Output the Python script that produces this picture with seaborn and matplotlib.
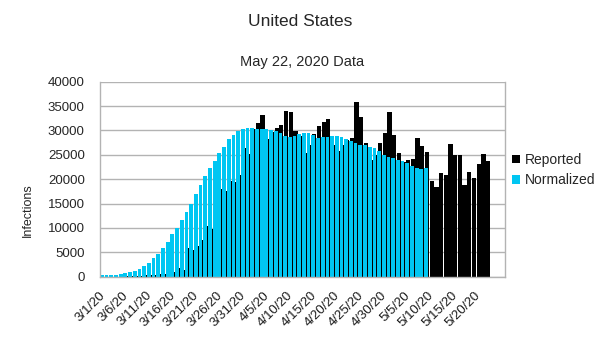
import numpy as np
import matplotlib
matplotlib.use("Agg")
import matplotlib.pyplot as plt
from matplotlib.transforms import ScaledTranslation
import seaborn as sns

# ---- data ----
title = "United States"
subtitle = "May 22, 2020 Data"
tick_labels = ["3/1/20", "3/6/20", "3/11/20", "3/16/20", "3/21/20", "3/26/20",
               "3/31/20", "4/5/20", "4/10/20", "4/15/20", "4/20/20", "4/25/20",
               "4/30/20", "5/5/20", "5/10/20", "5/15/20", "5/20/20"]

reported = [10, 20, 25, 30, 60, 70, 120, 110, 80, 300,
            350, 400, 500, 650, 750, 1000, 1700, 1300, 5800, 5500,
            6200, 7500, 10400, 9850, 11800, 17900, 17600, 19600, 19400, 20900,
            26300, 25200, 30200, 31600, 33200, 28200, 29600, 30500, 31100, 33900,
            33700, 29800, 28900, 25300, 27000, 29200, 30900, 31800, 32300, 27000,
            25700, 27000, 28000, 28400, 35900, 32700, 27500, 24000, 25000, 27350,
            29400, 33800, 29000, 25400, 23600, 23900, 24200, 28400, 26800, 25600,
            19700, 18450, 21300, 20850, 27250, 24950, 24950, 18800, 21400, 20170,
            23100, 25150, 23700]

normalized = [280, 300, 330, 360, 490, 700, 900, 1230, 1640, 2190,
              2870, 3770, 4650, 5820, 7050, 8690, 10050, 11620, 13330, 14900,
              16890, 18800, 20640, 22350, 23780, 25300, 26650, 28170, 29050, 29870,
              30200, 30420, 30420, 30300, 30400, 30300, 30100, 29800, 29400, 28900,
              28700, 28800, 29300, 29500, 29400, 29050, 28500, 28600, 28700, 28800,
              28800, 28700, 28300, 27900, 27400, 27000, 27000, 26700, 26500, 25700,
              24950, 24500, 24250, 23900, 23700, 23250, 22700, 22250, 22150, 22300]

black = "#000000"
cyan = "#00c6f2"
grid_c = "#b3b3b3"

sns.set_theme(style="white")
plt.rcParams["font.family"] = ["Liberation Sans", "DejaVu Sans"]

fig = plt.figure(figsize=(6.05, 3.40), dpi=100)
W, H = 605, 340
ax = fig.add_axes([100 / W, 1 - 276.7 / H, 405 / W, 195 / H])

days_rep = np.arange(len(reported))
days_norm = np.arange(len(normalized)) - 0.2

sns.barplot(x=days_rep, y=reported, native_scale=True, color=black,
            saturation=1, width=0.9, errorbar=None, ax=ax, label="Reported",
            linewidth=0)
sns.barplot(x=days_norm, y=normalized, native_scale=True, color=cyan,
            saturation=1, width=0.8, errorbar=None, ax=ax, label="Normalized",
            linewidth=0)

ax.set_xlim(-0.6, 85.6)
ax.set_ylim(0, 40000)
ax.set_yticks(np.arange(0, 40001, 5000))
ax.set_yticklabels([str(v) for v in range(0, 40001, 5000)], fontsize=9.5)
ax.set_xticks(np.arange(0, len(tick_labels) * 5, 5))
ax.set_xticklabels(tick_labels, rotation=45, ha="right", va="top",
                   rotation_mode="anchor", fontsize=9.5, color="#1a1a1a")
ax.tick_params(axis="x", length=0, pad=9)
ax.tick_params(axis="y", length=0, pad=11)
shift = ScaledTranslation(-4 / 100, 0, fig.dpi_scale_trans)
for lbl in ax.get_xticklabels():
    lbl.set_transform(lbl.get_transform() + shift)
ax.set_xlabel("")
ax.set_ylabel("")

ax.yaxis.grid(True, color=grid_c, linewidth=1)
ax.xaxis.grid(False)
ax.set_axisbelow(True)
for side in ["left", "right", "bottom"]:
    ax.spines[side].set_color(grid_c)
    ax.spines[side].set_linewidth(1)
ax.spines["top"].set_visible(False)

fig.text(300 / W, 1 - 22 / H, title, ha="center", va="center", fontsize=12.5)
fig.text(302 / W, 1 - 62 / H, subtitle, ha="center", va="center", fontsize=10.5)
fig.text(28 / W, 1 - 210 / H, "Infections", ha="center", va="center",
         rotation=90, fontsize=9)

if ax.legend_:
    ax.legend_.remove()
handles, labels = ax.get_legend_handles_labels()
fig.legend(handles, labels, loc="upper left",
           bbox_to_anchor=(512 / W, 1 - 153 / H), frameon=False,
           fontsize=10, handlelength=0.55, handleheight=0.55,
           handletextpad=0.35, labelspacing=0.45, borderaxespad=0,
           borderpad=0)

fig.savefig("out.png", dpi=100)
